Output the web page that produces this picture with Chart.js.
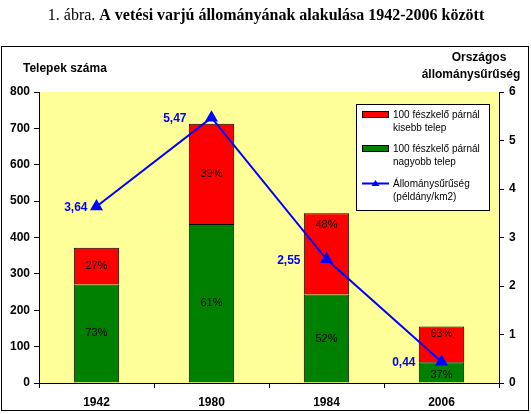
<!DOCTYPE html>
<html>
<head>
<meta charset="utf-8">
<script src="https://cdn.jsdelivr.net/npm/chart.js@4.4.0/dist/chart.umd.min.js"></script>
<style>
  html, body { margin: 0; padding: 0; background: #fff; }
  canvas { display: block; }
</style>
</head>
<body>
<canvas id="chart" width="531" height="414"></canvas>
<script>
// data
const years = ['1942', '1980', '1984', '2006'];
const bigColonies = [271, 437, 243, 57];    // 100 fészkelő párnál nagyobb telep
const smallColonies = [101, 276, 224, 98];  // 100 fészkelő párnál kisebb telep
const density = [3.64, 5.47, 2.55, 0.44];   // példány/km2

const legendLabels = [
  ['100 fészkelő párnál', 'kisebb telep'],
  ['100 fészkelő párnál', 'nagyobb telep'],
  ['Állománysűrűség', '(példány/km2)'],
];

const SANS = '"Liberation Sans", Arial, sans-serif';
const SERIF = '"Liberation Serif", "Times New Roman", serif';

// small nudges for label placement (px)
const pctShift = { small: [0, 0, -29, -10], big: [0, 0, 0, 3] };
const densityGap = [9, 25, 26, 26];

const pct = (v, i) => Math.round(v / (bigColonies[i] + smallColonies[i]) * 100) + '%';

const decor = {
  id: 'decor',
  beforeDraw(chart) {
    const ctx = chart.ctx, a = chart.chartArea;
    ctx.save();
    ctx.fillStyle = '#fff';
    ctx.fillRect(0, 0, chart.width, chart.height);
    ctx.strokeStyle = '#000';
    ctx.lineWidth = 1;
    ctx.strokeRect(1.5, 46.5, 527, 364);
    ctx.fillStyle = '#FFFF99';
    ctx.fillRect(a.left, a.top, a.right - a.left, a.bottom - a.top);
    ctx.restore();
  },
  afterDatasetsDraw(chart) {
    const ctx = chart.ctx;
    ctx.save();
    ctx.textAlign = 'center';
    ctx.textBaseline = 'middle';
    ctx.font = '11px ' + SANS;
    ctx.fillStyle = '#000';
    // percentages inside the stacks
    [[0, bigColonies, pctShift.big], [1, smallColonies, pctShift.small]].forEach(([di, vals, shift]) => {
      chart.getDatasetMeta(di).data.forEach((bar, i) => {
        const y = (bar.y + bar.base) / 2 + shift[i];
        ctx.fillText(pct(vals[i], i), bar.x, y);
      });
    });
    // density values
    ctx.textAlign = 'right';
    ctx.font = 'bold 12px ' + SANS;
    ctx.fillStyle = '#0000FF';
    chart.getDatasetMeta(2).data.forEach((pt, i) => {
      ctx.fillText(density[i].toFixed(2).replace('.', ','), pt.x - densityGap[i], pt.y + 1);
    });
    ctx.restore();
  },
  afterDraw(chart) {
    const ctx = chart.ctx;
    ctx.save();
    // title
    ctx.textBaseline = 'middle';
    ctx.fillStyle = '#000';
    const t1 = '1. ábra. ', t2 = 'A vetési varjú állományának alakulása 1942-2006 között';
    ctx.font = '16px ' + SERIF;
    const w1 = ctx.measureText(t1).width;
    ctx.font = 'bold 16px ' + SERIF;
    const w2 = ctx.measureText(t2).width;
    const x0 = 266 - (w1 + w2) / 2;
    ctx.textAlign = 'left';
    ctx.font = '16px ' + SERIF;
    ctx.fillText(t1, x0, 16);
    ctx.font = 'bold 16px ' + SERIF;
    ctx.fillText(t2, x0 + w1, 16);

    // axis titles
    ctx.font = 'bold 12px ' + SANS;
    ctx.fillText('Telepek száma', 23, 69);
    ctx.textAlign = 'center';
    ctx.fillText('Országos', 479, 58);
    ctx.fillText('állománysűrűség', 471, 75);

    // legend box
    const ds = chart.data.datasets;
    ctx.fillStyle = '#fff';
    ctx.fillRect(356, 104, 133, 106);
    ctx.strokeStyle = '#000';
    ctx.lineWidth = 1;
    ctx.strokeRect(356.5, 104.5, 133, 106);
    const rows = [
      { ds: ds[1], y: 114 },
      { ds: ds[0], y: 148 },
      { ds: ds[2], y: 183 },
    ];
    ctx.font = '10px ' + SANS;
    ctx.textAlign = 'left';
    rows.forEach((r, k) => {
      if (r.ds.type === 'line') {
        ctx.strokeStyle = r.ds.borderColor;
        ctx.lineWidth = 2;
        ctx.beginPath();
        ctx.moveTo(362, r.y + 0.5);
        ctx.lineTo(389, r.y + 0.5);
        ctx.stroke();
        ctx.fillStyle = r.ds.borderColor;
        ctx.beginPath();
        ctx.moveTo(375.5, r.y - 3);
        ctx.lineTo(379.5, r.y + 3);
        ctx.lineTo(371.5, r.y + 3);
        ctx.closePath();
        ctx.fill();
      } else {
        ctx.fillStyle = r.ds.backgroundColor;
        ctx.fillRect(363, r.y - 2, 25, 5);
        ctx.strokeStyle = '#000';
        ctx.lineWidth = 1;
        ctx.strokeRect(362.5, r.y - 2.5, 26, 6);
      }
      ctx.fillStyle = '#000';
      legendLabels[k].forEach((line, j) => {
        ctx.fillText(line, 393, r.y + 1 + j * 13.5);
      });
    });
    ctx.restore();
  }
};

new Chart(document.getElementById('chart'), {
  data: {
    labels: years,
    datasets: [
      {
        type: 'bar',
        label: '100 fészkelő párnál nagyobb telep',
        data: bigColonies,
        backgroundColor: '#008000',
        borderColor: '#000',
        borderWidth: 1,
        yAxisID: 'y',
        stack: 's',
        order: 1,
      },
      {
        type: 'bar',
        label: '100 fészkelő párnál kisebb telep',
        data: smallColonies,
        backgroundColor: '#FF0000',
        borderColor: '#000',
        borderWidth: 1,
        yAxisID: 'y',
        stack: 's',
        order: 1,
      },
      {
        type: 'line',
        label: 'Állománysűrűség (példány/km2)',
        data: density,
        borderColor: '#0000FF',
        backgroundColor: '#0000FF',
        borderWidth: 2,
        pointStyle: 'triangle',
        pointRadius: 5.5,
        pointBackgroundColor: '#0000FF',
        pointBorderColor: '#0000FF',
        yAxisID: 'y1',
        order: 0,
      },
    ],
  },
  options: {
    responsive: false,
    animation: false,
    layout: { padding: { top: 92, left: 0, right: 0, bottom: 0 } },
    datasets: { bar: { barPercentage: 0.395, categoryPercentage: 1 } },
    plugins: { legend: { display: false }, tooltip: { enabled: false } },
    scales: {
      x: {
        stacked: true,
        grid: { display: true, drawOnChartArea: false, drawTicks: true, tickLength: 5, color: '#000', offset: true },
        border: { display: true, color: '#000' },
        ticks: { color: '#000', font: { family: SANS, size: 12, weight: 'bold' }, padding: 7 },
        afterFit(s) { s.height = 31; },
      },
      y: {
        stacked: true,
        position: 'left',
        min: 0, max: 800,
        grid: { display: true, drawOnChartArea: false, drawTicks: true, tickLength: 5, color: '#000' },
        border: { display: true, color: '#000' },
        ticks: { stepSize: 100, color: '#000', font: { family: SANS, size: 12, weight: 'bold' }, padding: 4 },
        afterFit(s) { s.width = 39; },
      },
      y1: {
        position: 'right',
        min: 0, max: 6,
        grid: { display: true, drawOnChartArea: false, drawTicks: true, tickLength: 5, color: '#000' },
        border: { display: true, color: '#000' },
        ticks: { stepSize: 1, color: '#000', font: { family: SANS, size: 12, weight: 'bold' }, padding: 5 },
        afterFit(s) { s.width = 32; },
      },
    },
  },
  plugins: [decor],
});
</script>
</body>
</html>
